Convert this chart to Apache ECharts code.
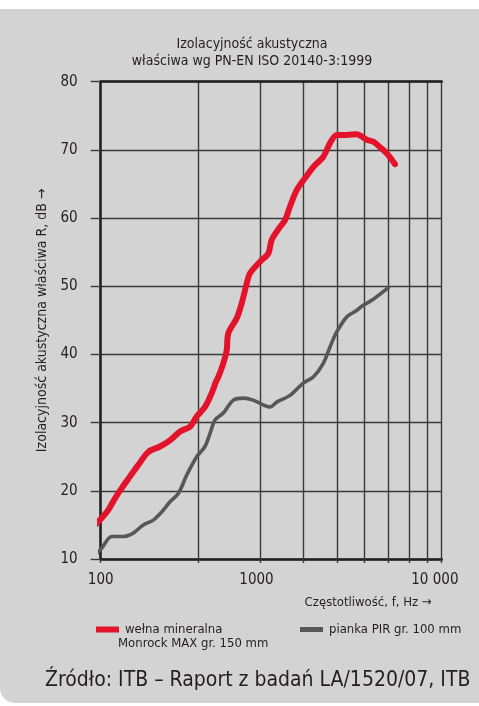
<!DOCTYPE html>
<html>
<head>
<meta charset="utf-8">
<script src="https://cdn.jsdelivr.net/npm/echarts@6/dist/echarts.min.js"></script>
<style>
  html, body { margin: 0; padding: 0; background: #ffffff; width: 479px; height: 706px; overflow: hidden; }
  #panel { position: absolute; left: 0; top: 9px; width: 479px; height: 694px; background: #d3d3d3; border-bottom-left-radius: 15px; }
  #chart { position: absolute; left: 0; top: 0; width: 479px; height: 706px; }
</style>
</head>
<body>
<div id="panel"></div>
<div id="chart"></div>
<script>
// x values: position along the (one-decade log paper) frequency axis, 0 = "100", 1 = "10 000"
const redX = [-0.0235, 0.0029, 0.0223, 0.0419, 0.0616, 0.0859, 0.1103, 0.1396, 0.1739, 0.2032, 0.2326, 0.2619, 0.2815, 0.3059, 0.3255, 0.3381, 0.3449, 0.3595, 0.3695, 0.3742, 0.3988, 0.4135, 0.4282, 0.4378, 0.4672, 0.4915, 0.5015, 0.5258, 0.5405, 0.5551, 0.5748, 0.6041, 0.6235, 0.6528, 0.6724, 0.6921, 0.7214, 0.7507, 0.7801, 0.7994, 0.8191, 0.8387, 0.8630];
const redY = [14.6, 16.0, 17.2, 18.9, 20.4, 22.1, 23.8, 25.7, 26.5, 27.4, 28.7, 29.4, 30.9, 32.3, 34.3, 36.0, 36.7, 38.7, 40.6, 43.1, 45.3, 47.5, 50.4, 51.9, 53.6, 54.8, 56.8, 58.7, 59.7, 61.7, 64.1, 66.2, 67.5, 69.0, 71.0, 72.2, 72.2, 72.3, 71.5, 71.2, 70.4, 69.5, 67.9];
const grayX = [-0.0235, 0.0029, 0.0323, 0.0663, 0.0956, 0.1249, 0.1543, 0.1789, 0.2032, 0.2276, 0.2522, 0.2815, 0.3059, 0.3205, 0.3352, 0.3595, 0.3889, 0.4182, 0.4475, 0.4768, 0.4965, 0.5161, 0.5551, 0.5941, 0.6235, 0.6528, 0.6724, 0.6921, 0.7214, 0.7457, 0.7701, 0.7994, 0.8434];
const grayY = [10.1, 11.6, 13.3, 13.3, 13.8, 15.0, 15.7, 16.9, 18.4, 19.6, 22.3, 25.0, 26.5, 28.4, 30.4, 31.4, 33.3, 33.6, 33.3, 32.6, 32.3, 33.0, 34.0, 35.8, 36.7, 38.7, 41.1, 43.3, 45.5, 46.3, 47.2, 48.1, 49.8];

const xGridTicks = [0, 0.286, 0.467, 0.594, 0.694, 0.773, 0.843, 0.904, 0.959, 1];
const xLabelPos = [0, 0.457, 0.98];
const xLabelText = ['100', '1000', '10 000'];
const yMin = 10, yMax = 80, yStep = 10;

const seriesNames = ['wełna mineralna Monrock MAX gr. 150 mm', 'pianka PIR gr. 100 mm'];
const legendLabels = ['wełna mineralna', 'pianka PIR gr. 100 mm'];

const FONT = "'Liberation Sans Narrow', 'DejaVu Sans Condensed', 'Roboto Condensed', Roboto, sans-serif";
const TXT = '#231f20';
const GRIDC = '#3a3a3a';

const zip = (xs, ys) => xs.map((x, i) => [x, ys[i]]);

const chart = echarts.init(document.getElementById('chart'), null, { renderer: 'canvas' });
chart.setOption({
  backgroundColor: 'transparent',
  animation: false,
  textStyle: { fontFamily: FONT, color: TXT },
  title: {
    text: 'Izolacyjność akustyczna\nwłaściwa wg PN-EN ISO 20140-3:1999',
    left: 247, top: 31, textAlign: 'center',
    textStyle: { fontFamily: FONT, fontSize: 14, fontWeight: 'normal', color: TXT, lineHeight: 17 }
  },
  grid: { left: 100.7, right: 37.3, top: 81.7, bottom: 147, containLabel: false },
  legend: [
    {
      left: 91, top: 618, data: [seriesNames[0]], icon: 'rect', itemWidth: 23, itemHeight: 6, itemGap: 0,
      formatter: () => legendLabels[0],
      textStyle: { fontFamily: FONT, fontSize: 13, color: TXT, padding: [0, 0, 0, 1] }
    },
    {
      left: 295, top: 618, data: [seriesNames[1]], icon: 'rect', itemWidth: 23, itemHeight: 5, itemGap: 0,
      formatter: () => legendLabels[1],
      textStyle: { fontFamily: FONT, fontSize: 13, color: TXT, padding: [0, 0, 0, 1] }
    }
  ],
  graphic: [
    { type: 'text', left: 118, top: 637, style: { text: 'Monrock MAX gr. 150 mm', font: '13px ' + FONT, fill: TXT } },
    { type: 'text', left: 45, top: 670, style: { text: 'Źródło: ITB – Raport z badań LA/1520/07, ITB', font: '21px ' + FONT, fill: TXT } }
  ],
  xAxis: [
    {
      type: 'value', min: 0, max: 1, position: 'bottom',
      name: 'Częstotliwość, f, Hz →', nameLocation: 'end',
      nameTextStyle: { fontFamily: FONT, fontSize: 13, color: TXT, align: 'right', verticalAlign: 'top', padding: [37, 10, 0, 0] },
      nameGap: 0,
      axisLine: { show: true, onZero: false, lineStyle: { color: '#1f1f1f', width: 2.5 } },
      axisTick: { show: true, inside: false, length: 4, customValues: xGridTicks, lineStyle: { color: GRIDC, width: 1.4 } },
      splitLine: { show: true, lineStyle: { color: GRIDC, width: 1.4 } },
      axisLabel: {
        customValues: xLabelPos, margin: 14,
        formatter: (v) => { const i = xLabelPos.findIndex(p => Math.abs(p - v) < 1e-6); return i >= 0 ? xLabelText[i] : ''; },
        fontFamily: FONT, fontSize: 15, color: TXT
      }
    },
    {
      type: 'value', min: 0, max: 1, position: 'top',
      axisLine: { show: true, onZero: false, lineStyle: { color: '#1f1f1f', width: 2.5 } },
      axisTick: { show: false }, axisLabel: { show: false }, splitLine: { show: false }
    }
  ],
  yAxis: {
    type: 'value', min: yMin, max: yMax, interval: yStep,
    name: 'Izolacyjność akustyczna właściwa R, dB →', nameLocation: 'middle', nameGap: 48, nameRotate: 90,
    nameTextStyle: { fontFamily: FONT, fontSize: 14, color: TXT },
    axisLine: { show: true, onZero: false, lineStyle: { color: '#1f1f1f', width: 2.5 } },
    axisTick: { show: true, inside: false, length: 10, lineStyle: { color: GRIDC, width: 1.4 } },
    splitLine: { show: true, lineStyle: { color: GRIDC, width: 1.4 } },
    axisLabel: { margin: 23, fontFamily: FONT, fontSize: 15, color: TXT }
  },
  series: [
    {
      name: seriesNames[0], type: 'line', data: zip(redX, redY), showSymbol: false, smooth: 0.3, clip: false,
      color: '#e3132c', lineStyle: { color: '#e3132c', width: 6, cap: 'round', join: 'round' }, z: 4
    },
    {
      name: seriesNames[1], type: 'line', data: zip(grayX, grayY), showSymbol: false, smooth: 0.3, clip: false,
      color: '#575757', lineStyle: { color: '#575757', width: 3.6, cap: 'round', join: 'round' }, z: 3
    }
  ]
});
</script>
</body>
</html>
